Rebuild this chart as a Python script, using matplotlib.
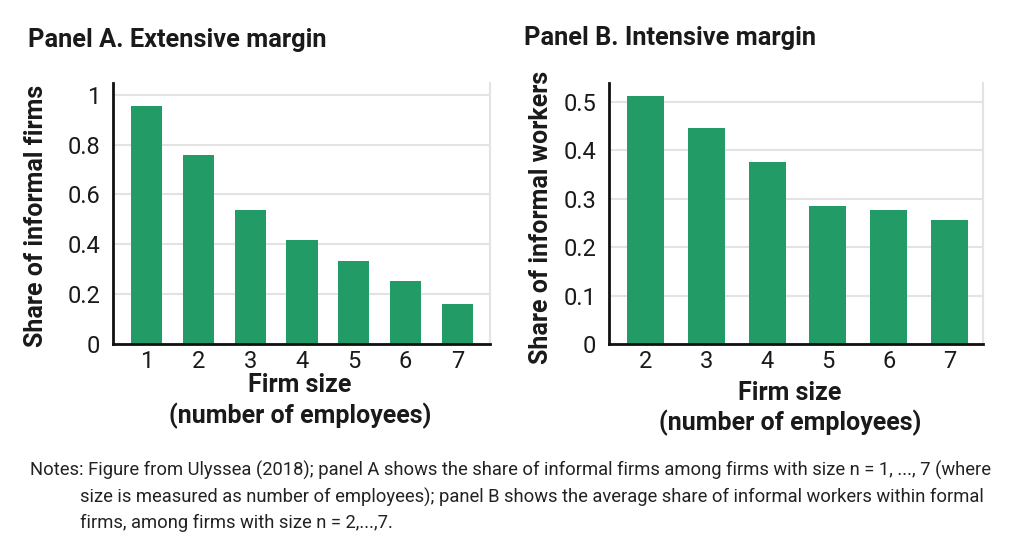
import matplotlib
matplotlib.use("Agg")
import matplotlib.pyplot as plt

plt.rcParams['font.family'] = ['Roboto', 'DejaVu Sans']

# Panel A: extensive margin
sizesA = [1, 2, 3, 4, 5, 6, 7]
shareFirms = [0.955, 0.758, 0.537, 0.417, 0.333, 0.253, 0.160]
yticksA = [0, 0.2, 0.4, 0.6, 0.8, 1.0]
ylabelsA = ['0', '0.2', '0.4', '0.6', '0.8', '1']

# Panel B: intensive margin
sizesB = [2, 3, 4, 5, 6, 7]
shareWorkers = [0.512, 0.446, 0.376, 0.285, 0.277, 0.256]
yticksB = [0, 0.1, 0.2, 0.3, 0.4, 0.5]
ylabelsB = ['0', '0.1', '0.2', '0.3', '0.4', '0.5']

barColor = '#239B67'
textColor = '#1a1a1a'

fig = plt.figure(figsize=(10.15, 5.43), dpi=100)
axA = fig.add_axes([0.1113, 0.3665, 0.3714, 0.4807])
axB = fig.add_axes([0.6, 0.3665, 0.3685, 0.4807])


def styleAxis(ax, yticks, ylabels, ylabel, xlabel):
    ax.set_axisbelow(True)
    ax.yaxis.grid(True, color='#e3e3e3', linewidth=1.5)
    ax.spines['top'].set_visible(False)
    ax.spines['right'].set_color('#e3e3e3')
    ax.spines['right'].set_linewidth(1.5)
    for s in ['left', 'bottom']:
        ax.spines[s].set_linewidth(2)
        ax.spines[s].set_color('#111111')
    ax.set_yticks(yticks)
    ax.set_yticklabels(ylabels)
    ax.tick_params(axis='both', length=0, labelsize=17, labelcolor=textColor)
    ax.tick_params(axis='y', pad=9)
    ax.tick_params(axis='x', pad=4)
    ax.set_ylabel(ylabel, fontsize=18, fontweight='bold', color=textColor)
    ax.set_xlabel(xlabel, fontsize=18, fontweight='bold', color=textColor,
                  linespacing=1.25)


axA.bar(sizesA, shareFirms, width=0.6, color=barColor)
axA.set_xlim(0.35, 7.63)
axA.set_ylim(0, 1.047)
axA.set_xticks(sizesA)
styleAxis(axA, yticksA, ylabelsA, 'Share of informal firms',
          'Firm size\n(number of employees)')
axA.yaxis.set_label_coords(-0.173, 0.49)
axA.xaxis.set_label_coords(0.496, -0.112)

axB.bar(sizesB, shareWorkers, width=0.61, color=barColor)
axB.set_xlim(1.4, 7.55)
axB.set_ylim(0, 0.539)
axB.set_xticks(sizesB)
styleAxis(axB, yticksB, ylabelsB, 'Share of informal workers',
          'Firm size\n(number of employees)')
axB.yaxis.set_label_coords(-0.149, 0.485)
axB.xaxis.set_label_coords(0.484, -0.14)

fig.text(28 / 1015, 1 - 40 / 543, 'Panel A. Extensive margin', fontsize=18.3,
         fontweight='bold', color=textColor, va='center', ha='left')
fig.text(524 / 1015, 1 - 38 / 543, 'Panel B. Intensive margin', fontsize=18.3,
         fontweight='bold', color=textColor, va='center', ha='left')

notes = [
    (30, 470, 'Notes: Figure from Ulyssea (2018); panel A shows the share of informal firms among firms with size n = 1, ..., 7 (where'),
    (80, 497, 'size is measured as number of employees); panel B shows the average share of informal workers within formal'),
    (80, 523, 'firms, among firms with size n = 2,...,7.'),
]
for x, y, line in notes:
    fig.text(x / 1015, 1 - y / 543, line, fontsize=13.2, color='#222222',
             va='center', ha='left')

fig.savefig('out.png', dpi=100)
